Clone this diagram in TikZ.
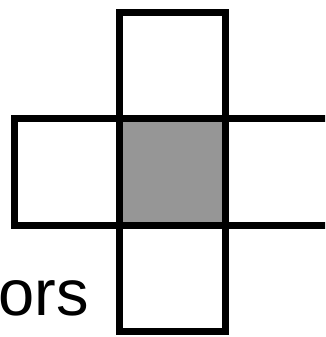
\documentclass[tikz,border=0pt]{standalone}
\usepackage{fontspec}
\setmainfont{Liberation Sans}
\definecolor{cellgray}{RGB}{150,150,150}
\begin{document}
\begin{tikzpicture}[x=1pt,y=-1pt,
  cell/.style={draw=black,line width=7pt,fill=white,rectangle,inner sep=0pt,
    minimum width=105.5pt,minimum height=106.5pt},
  center/.style={cell,fill=cellgray},
  lbl/.style={inner sep=0pt,font=\fontsize{65}{78}\selectfont}]
\useasboundingbox (0,0) rectangle (325,337);
\clip (0,0) rectangle (325,337);
\fill[white] (0,0) rectangle (325,337);
\node[cell] (top) at (172.25,65.5) {};
\node[cell] (left) at (66.75,172) {};
\node[cell] (right) at (277.75,172) {};
\node[cell] (bottom) at (172.25,278.5) {};
\node[center] (mid) at (172.25,172) {};
\node[lbl,anchor=base east] (txt) at (89,315) {ors};
\end{tikzpicture}
\end{document}
